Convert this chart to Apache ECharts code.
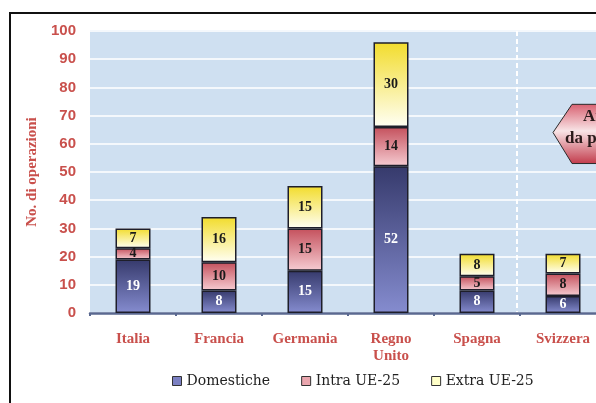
<!DOCTYPE html>
<html>
<head>
<meta charset="utf-8">
<script src="https://cdn.jsdelivr.net/npm/echarts@6/dist/echarts.min.js"></script>
<style>
html,body{margin:0;padding:0;background:#fff;overflow:hidden;width:596px;height:403px;}
#chart{width:616px;height:403px;}
</style>
</head>
<body>
<div id="chart"></div>
<script>
var categories = ['Italia', 'Francia', 'Germania', 'Regno\nUnito', 'Spagna', 'Svizzera'];
var domestiche = [19, 8, 15, 52, 8, 6];
var intraUE = [4, 10, 15, 14, 5, 8];
var extraUE = [7, 16, 15, 30, 8, 7];
var seriesNames = ['Domestiche', 'Intra UE-25', 'Extra UE-25'];
var yTicks = [0, 10, 20, 30, 40, 50, 60, 70, 80, 90, 100];

var chart = echarts.init(document.getElementById('chart'), null, {renderer: 'canvas'});

function grad(top, bottom) {
  return new echarts.graphic.LinearGradient(0, 0, 0, 1, [
    {offset: 0, color: top}, {offset: 1, color: bottom}
  ]);
}
var red = '#c9504c';
var labelFont = {fontFamily: 'Liberation Serif', fontSize: 14, fontWeight: 'bold'};

function barSeries(name, data, fill, labelColor) {
  return {
    name: name,
    type: 'bar',
    stack: 'tot',
    barWidth: 35,
    data: data,
    itemStyle: {color: fill, borderColor: '#1e1e2a', borderWidth: 1.5},
    label: Object.assign({show: true, position: 'inside', color: labelColor}, labelFont)
  };
}

var option = {
  animation: false,
  backgroundColor: '#ffffff',
  grid: {left: 90, top: 31, right: 10, bottom: 90, show: true, backgroundColor: '#cfe0f1', borderWidth: 0},
  legend: {
    top: 369, left: 167,
    itemWidth: 9, itemHeight: 9, itemGap: 31,
    icon: 'rect',
    textStyle: {fontFamily: 'DejaVu Serif', fontSize: 14, color: '#222222'},
    data: [
      {name: seriesNames[0], itemStyle: {color: '#7b80c2', borderColor: '#333', borderWidth: 1}},
      {name: seriesNames[1], itemStyle: {color: '#eaa6ae', borderColor: '#333', borderWidth: 1}},
      {name: seriesNames[2], itemStyle: {color: '#ffffc8', borderColor: '#333', borderWidth: 1}}
    ]
  },
  xAxis: {
    type: 'category',
    data: categories,
    axisLine: {lineStyle: {color: '#5a6890', width: 2.5}},
    axisTick: {show: true, length: 3, lineStyle: {color: '#5a6890', width: 2}},
    axisLabel: {interval: 0, color: red, fontFamily: 'Liberation Serif', fontSize: 15, fontWeight: 'bold', margin: 18, lineHeight: 17}
  },
  yAxis: {
    type: 'value',
    min: yTicks[0], max: yTicks[yTicks.length - 1], interval: 10,
    name: 'No. di operazioni',
    nameLocation: 'middle',
    nameGap: 50,
    nameTextStyle: {color: red, fontFamily: 'Liberation Serif', fontSize: 15, fontWeight: 'bold'},
    axisLine: {show: false},
    axisTick: {show: false},
    axisLabel: {color: red, fontFamily: 'Liberation Sans', fontSize: 15, fontWeight: 'bold', margin: 14},
    splitLine: {lineStyle: {color: '#f4f8fc', width: 2}}
  },
  series: [
    barSeries(seriesNames[0], domestiche, grad('#363a6c', '#858ccf'), '#ffffff'),
    barSeries(seriesNames[1], intraUE, grad('#c4505c', '#f6ccd2'), '#1a1a1a'),
    barSeries(seriesNames[2], extraUE, grad('#f2dc2c', '#fffff4'), '#1a1a1a')
  ]
};
chart.setOption(option);

// decorations: dashed separator between Spagna and Svizzera, annotation, frame
var xS = chart.convertToPixel({xAxisIndex: 0}, categories[4]);
var xV = chart.convertToPixel({xAxisIndex: 0}, categories[5]);
var sepX = (xS + xV) / 2 - 3;
var yTop = chart.convertToPixel({yAxisIndex: 0}, 100);
var yBot = chart.convertToPixel({yAxisIndex: 0}, 0);
var y75 = chart.convertToPixel({yAxisIndex: 0}, 74);
var y64 = chart.convertToPixel({yAxisIndex: 0}, 64);
var y53 = chart.convertToPixel({yAxisIndex: 0}, 53);

chart.setOption({
  graphic: [
    {type: 'line', z: 1, shape: {x1: sepX, y1: yTop, x2: sepX, y2: yBot - 1},
     style: {stroke: '#ffffff', lineWidth: 2, lineDash: [5, 3]}},
    {type: 'polygon', z: 10,
     shape: {points: [[sepX + 36, y64], [sepX + 55, y75], [660, y75], [660, y53], [sepX + 55, y53]]},
     style: {
       fill: new echarts.graphic.LinearGradient(0, 0, 0, 1, [
         {offset: 0, color: '#d86070'}, {offset: 0.45, color: '#f8e4e6'}, {offset: 1, color: '#c23a4a'}
       ]),
       stroke: '#2a2a2a', lineWidth: 1
     }},
    {type: 'text', z: 11, left: sepX + 66, top: y75 + 4,
     style: {text: 'Analisi', fill: '#2a1a1a', font: 'bold 17px "Liberation Serif"'}},
    {type: 'text', z: 11, left: sepX + 48, top: y75 + 26,
     style: {text: 'da paese', fill: '#2a1a1a', font: 'bold 17px "Liberation Serif"'}},
    {type: 'rect', z: 20, shape: {x: 10, y: 13, width: 640, height: 420},
     style: {fill: 'none', stroke: '#111111', lineWidth: 2}}
  ]
});
</script>
</body>
</html>
